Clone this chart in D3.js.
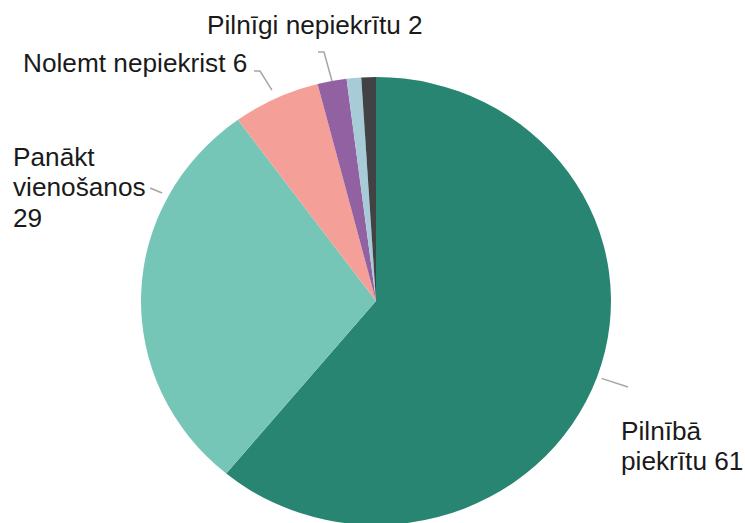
<!DOCTYPE html>
<html><head><meta charset="utf-8">
<script src="https://cdn.jsdelivr.net/npm/d3@7"></script>
<style>body{margin:0;background:#fff} svg{display:block}</style></head>
<body>
<script>
// ---- data ----
const categories = ["Pilnībā piekrītu", "Panākt vienošanos", "Nolemt nepiekrist", "Pilnīgi nepiekrītu", "Cits", "Nezinu"];
const values = [61, 29, 6, 2, 1, 1];
const colors = ["#288571", "#76c6b8", "#f49f98", "#9161a2", "#a7ccd8", "#424244"];
// label line breaks (value appended to the last line)
const labelLines = [["Pilnībā", "piekrītu"], ["Panākt", "vienošanos", ""], ["Nolemt nepiekrist"], ["Pilnīgi nepiekrītu"], null, null];

// ---- layout ----
const W = 745, H = 523;
const cx = 376, cy = 301, ry = 224, sx = 1.049;
const labelLayout = [
  {x: 621, y: 440, dy: 30, frac: 0.5, path: [[628, 387]]},
  {x: 13, y: 166, dy: 30.5, frac: 0.75, path: [[150, 188]], rf: 1.03},
  {x: 23, y: 72, dy: 30, frac: 0.5, path: [[254, 71], [260, 71]], rf: 1.04},
  {x: 207, y: 34, dy: 30, frac: 0.5, path: [[318, 52], [324, 52]], rf: 1.0},
  null, null
];

const svg = d3.select("body").append("svg").attr("width", W).attr("height", H);

const pie = d3.pie().sort(null).value(d => d);
const arcs = pie(values);
const arc = d3.arc().innerRadius(0).outerRadius(ry);

const g = svg.append("g").attr("transform", `translate(${cx},${cy}) scale(${sx},1)`);
g.selectAll("path").data(arcs).join("path")
  .attr("d", arc)
  .attr("fill", (d, i) => colors[i]);

// leader lines
const line = d3.line();
arcs.forEach((a, i) => {
  const L = labelLayout[i];
  if (!L) return;
  const ang = a.startAngle + L.frac * (a.endAngle - a.startAngle);
  const r = ry * (L.rf || 1.02);
  const anchor = [cx + sx * r * Math.sin(ang), cy - r * Math.cos(ang)];
  svg.append("path")
    .attr("d", line([...L.path, anchor]))
    .attr("fill", "none")
    .attr("stroke", "#a6a6a6")
    .attr("stroke-width", 1.5);
});

// labels
arcs.forEach((a, i) => {
  const L = labelLayout[i];
  if (!L || !labelLines[i]) return;
  const lines = labelLines[i].slice();
  const last = lines.length - 1;
  lines[last] = (lines[last] ? lines[last] + " " : "") + values[i];
  const t = svg.append("text")
    .attr("transform", `translate(${L.x},${L.y}) scale(${sx},1)`)
    .attr("font-family", "'Liberation Sans', Arial, sans-serif")
    .attr("font-size", 25)
    .attr("fill", "#1a1a1a");
  lines.forEach((s, k) => {
    t.append("tspan").attr("x", 0).attr("y", k * L.dy).text(s);
  });
});
</script>
</body></html>
